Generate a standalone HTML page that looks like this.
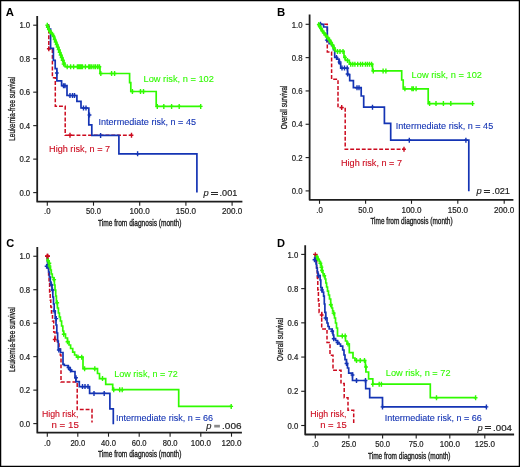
<!DOCTYPE html><html><head><meta charset="utf-8"><style>html,body{margin:0;padding:0;background:#fff;}svg{display:block;}text{font-family:"Liberation Sans",sans-serif;}</style></head><body>
<div style="will-change:transform"><svg width="520" height="467" viewBox="0 0 520 467">
<rect x="0" y="0" width="520" height="467" fill="#fff"/>
<path d="M37.2,16 V201.7 H242.4" fill="none" stroke="#1e1e1e" stroke-width="1.8" stroke-linejoin="round"/>
<line x1="33.2" y1="25.2" x2="37.2" y2="25.2" stroke="#1e1e1e" stroke-width="1.1"/>
<text x="19.4" y="28.4" font-size="8.2" fill="#1e1e1e" text-anchor="start" font-weight="normal" font-style="normal" textLength="10.8" lengthAdjust="spacingAndGlyphs" stroke="#1e1e1e" stroke-width="0.2">1.0</text>
<line x1="33.2" y1="58.68" x2="37.2" y2="58.68" stroke="#1e1e1e" stroke-width="1.1"/>
<text x="19.4" y="61.88" font-size="8.2" fill="#1e1e1e" text-anchor="start" font-weight="normal" font-style="normal" textLength="10.8" lengthAdjust="spacingAndGlyphs" stroke="#1e1e1e" stroke-width="0.2">0.8</text>
<line x1="33.2" y1="92.16" x2="37.2" y2="92.16" stroke="#1e1e1e" stroke-width="1.1"/>
<text x="19.4" y="95.36" font-size="8.2" fill="#1e1e1e" text-anchor="start" font-weight="normal" font-style="normal" textLength="10.8" lengthAdjust="spacingAndGlyphs" stroke="#1e1e1e" stroke-width="0.2">0.6</text>
<line x1="33.2" y1="125.64" x2="37.2" y2="125.64" stroke="#1e1e1e" stroke-width="1.1"/>
<text x="19.4" y="128.84" font-size="8.2" fill="#1e1e1e" text-anchor="start" font-weight="normal" font-style="normal" textLength="10.8" lengthAdjust="spacingAndGlyphs" stroke="#1e1e1e" stroke-width="0.2">0.4</text>
<line x1="33.2" y1="159.12" x2="37.2" y2="159.12" stroke="#1e1e1e" stroke-width="1.1"/>
<text x="19.4" y="162.32" font-size="8.2" fill="#1e1e1e" text-anchor="start" font-weight="normal" font-style="normal" textLength="10.8" lengthAdjust="spacingAndGlyphs" stroke="#1e1e1e" stroke-width="0.2">0.2</text>
<line x1="33.2" y1="192.6" x2="37.2" y2="192.6" stroke="#1e1e1e" stroke-width="1.1"/>
<text x="19.4" y="195.79999999999998" font-size="8.2" fill="#1e1e1e" text-anchor="start" font-weight="normal" font-style="normal" textLength="10.8" lengthAdjust="spacingAndGlyphs" stroke="#1e1e1e" stroke-width="0.2">0.0</text>
<line x1="47.3" y1="201.7" x2="47.3" y2="205.7" stroke="#1e1e1e" stroke-width="1.1"/>
<text x="47.3" y="214" font-size="8.2" fill="#1e1e1e" text-anchor="middle" font-weight="normal" font-style="normal" textLength="6.5" lengthAdjust="spacingAndGlyphs" stroke="#1e1e1e" stroke-width="0.2">.0</text>
<line x1="93.5" y1="201.7" x2="93.5" y2="205.7" stroke="#1e1e1e" stroke-width="1.1"/>
<text x="93.5" y="214" font-size="8.2" fill="#1e1e1e" text-anchor="middle" font-weight="normal" font-style="normal" textLength="14.8" lengthAdjust="spacingAndGlyphs" stroke="#1e1e1e" stroke-width="0.2">50.0</text>
<line x1="139.7" y1="201.7" x2="139.7" y2="205.7" stroke="#1e1e1e" stroke-width="1.1"/>
<text x="139.7" y="214" font-size="8.2" fill="#1e1e1e" text-anchor="middle" font-weight="normal" font-style="normal" textLength="20.2" lengthAdjust="spacingAndGlyphs" stroke="#1e1e1e" stroke-width="0.2">100.0</text>
<line x1="185.9" y1="201.7" x2="185.9" y2="205.7" stroke="#1e1e1e" stroke-width="1.1"/>
<text x="185.9" y="214" font-size="8.2" fill="#1e1e1e" text-anchor="middle" font-weight="normal" font-style="normal" textLength="20.2" lengthAdjust="spacingAndGlyphs" stroke="#1e1e1e" stroke-width="0.2">150.0</text>
<line x1="232.1" y1="201.7" x2="232.1" y2="205.7" stroke="#1e1e1e" stroke-width="1.1"/>
<text x="232.1" y="214" font-size="8.2" fill="#1e1e1e" text-anchor="middle" font-weight="normal" font-style="normal" textLength="20.2" lengthAdjust="spacingAndGlyphs" stroke="#1e1e1e" stroke-width="0.2">200.0</text>
<text x="5.8" y="15.8" font-size="11.4" fill="#000" text-anchor="start" font-weight="bold" font-style="normal" textLength="8.2" lengthAdjust="spacingAndGlyphs">A</text>
<text x="98" y="225.8" font-size="8.8" fill="#1e1e1e" text-anchor="start" font-weight="normal" font-style="normal" textLength="83.4" lengthAdjust="spacingAndGlyphs" stroke="#1e1e1e" stroke-width="0.35">Time from diagnosis (month)</text>
<text transform="translate(14.6,108.7) rotate(-90)" x="0" y="0" font-size="8.8" fill="#1e1e1e" stroke="#1e1e1e" stroke-width="0.3" text-anchor="middle" textLength="64" lengthAdjust="spacingAndGlyphs">Leukemia-free survival</text>
<text x="143.5" y="82" font-size="9" fill="#30fa00" text-anchor="start" font-weight="normal" font-style="normal" textLength="70.4" lengthAdjust="spacingAndGlyphs" stroke="#30fa00" stroke-width="0.1">Low risk, n = 102</text>
<text x="98.5" y="124.8" font-size="9" fill="#1434b4" text-anchor="start" font-weight="normal" font-style="normal" textLength="97.5" lengthAdjust="spacingAndGlyphs" stroke="#1434b4" stroke-width="0.1">Intermediate risk, n = 45</text>
<text x="49.1" y="152.3" font-size="9" fill="#cc0a1e" text-anchor="start" font-weight="normal" font-style="normal" textLength="61" lengthAdjust="spacingAndGlyphs" stroke="#cc0a1e" stroke-width="0.1">High risk, n = 7</text>
<path d="M309.6,14.4 V199.8 H513.4" fill="none" stroke="#1e1e1e" stroke-width="1.8" stroke-linejoin="round"/>
<line x1="305.6" y1="24.3" x2="309.6" y2="24.3" stroke="#1e1e1e" stroke-width="1.1"/>
<text x="291.7" y="27.5" font-size="8.2" fill="#1e1e1e" text-anchor="start" font-weight="normal" font-style="normal" textLength="10.8" lengthAdjust="spacingAndGlyphs" stroke="#1e1e1e" stroke-width="0.2">1.0</text>
<line x1="305.6" y1="57.62" x2="309.6" y2="57.62" stroke="#1e1e1e" stroke-width="1.1"/>
<text x="291.7" y="60.82" font-size="8.2" fill="#1e1e1e" text-anchor="start" font-weight="normal" font-style="normal" textLength="10.8" lengthAdjust="spacingAndGlyphs" stroke="#1e1e1e" stroke-width="0.2">0.8</text>
<line x1="305.6" y1="90.94" x2="309.6" y2="90.94" stroke="#1e1e1e" stroke-width="1.1"/>
<text x="291.7" y="94.14" font-size="8.2" fill="#1e1e1e" text-anchor="start" font-weight="normal" font-style="normal" textLength="10.8" lengthAdjust="spacingAndGlyphs" stroke="#1e1e1e" stroke-width="0.2">0.6</text>
<line x1="305.6" y1="124.26" x2="309.6" y2="124.26" stroke="#1e1e1e" stroke-width="1.1"/>
<text x="291.7" y="127.46000000000001" font-size="8.2" fill="#1e1e1e" text-anchor="start" font-weight="normal" font-style="normal" textLength="10.8" lengthAdjust="spacingAndGlyphs" stroke="#1e1e1e" stroke-width="0.2">0.4</text>
<line x1="305.6" y1="157.58" x2="309.6" y2="157.58" stroke="#1e1e1e" stroke-width="1.1"/>
<text x="291.7" y="160.78" font-size="8.2" fill="#1e1e1e" text-anchor="start" font-weight="normal" font-style="normal" textLength="10.8" lengthAdjust="spacingAndGlyphs" stroke="#1e1e1e" stroke-width="0.2">0.2</text>
<line x1="305.6" y1="190.9" x2="309.6" y2="190.9" stroke="#1e1e1e" stroke-width="1.1"/>
<text x="291.7" y="194.1" font-size="8.2" fill="#1e1e1e" text-anchor="start" font-weight="normal" font-style="normal" textLength="10.8" lengthAdjust="spacingAndGlyphs" stroke="#1e1e1e" stroke-width="0.2">0.0</text>
<line x1="319.5" y1="199.8" x2="319.5" y2="203.8" stroke="#1e1e1e" stroke-width="1.1"/>
<text x="319.5" y="212.6" font-size="8.2" fill="#1e1e1e" text-anchor="middle" font-weight="normal" font-style="normal" textLength="6.5" lengthAdjust="spacingAndGlyphs" stroke="#1e1e1e" stroke-width="0.2">.0</text>
<line x1="365.6" y1="199.8" x2="365.6" y2="203.8" stroke="#1e1e1e" stroke-width="1.1"/>
<text x="365.6" y="212.6" font-size="8.2" fill="#1e1e1e" text-anchor="middle" font-weight="normal" font-style="normal" textLength="14.8" lengthAdjust="spacingAndGlyphs" stroke="#1e1e1e" stroke-width="0.2">50.0</text>
<line x1="411.5" y1="199.8" x2="411.5" y2="203.8" stroke="#1e1e1e" stroke-width="1.1"/>
<text x="411.5" y="212.6" font-size="8.2" fill="#1e1e1e" text-anchor="middle" font-weight="normal" font-style="normal" textLength="20.2" lengthAdjust="spacingAndGlyphs" stroke="#1e1e1e" stroke-width="0.2">100.0</text>
<line x1="457.8" y1="199.8" x2="457.8" y2="203.8" stroke="#1e1e1e" stroke-width="1.1"/>
<text x="457.8" y="212.6" font-size="8.2" fill="#1e1e1e" text-anchor="middle" font-weight="normal" font-style="normal" textLength="20.2" lengthAdjust="spacingAndGlyphs" stroke="#1e1e1e" stroke-width="0.2">150.0</text>
<line x1="504.2" y1="199.8" x2="504.2" y2="203.8" stroke="#1e1e1e" stroke-width="1.1"/>
<text x="504.2" y="212.6" font-size="8.2" fill="#1e1e1e" text-anchor="middle" font-weight="normal" font-style="normal" textLength="20.2" lengthAdjust="spacingAndGlyphs" stroke="#1e1e1e" stroke-width="0.2">200.0</text>
<text x="276.9" y="15.85" font-size="11.4" fill="#000" text-anchor="start" font-weight="bold" font-style="normal" textLength="8.2" lengthAdjust="spacingAndGlyphs">B</text>
<text x="370.4" y="224" font-size="8.8" fill="#1e1e1e" text-anchor="start" font-weight="normal" font-style="normal" textLength="82.2" lengthAdjust="spacingAndGlyphs" stroke="#1e1e1e" stroke-width="0.35">Time from diagnosis (month)</text>
<text transform="translate(286.6,107.4) rotate(-90)" x="0" y="0" font-size="8.8" fill="#1e1e1e" stroke="#1e1e1e" stroke-width="0.3" text-anchor="middle" textLength="43.5" lengthAdjust="spacingAndGlyphs">Overall survival</text>
<text x="411.6" y="77.8" font-size="9" fill="#30fa00" text-anchor="start" font-weight="normal" font-style="normal" textLength="70.4" lengthAdjust="spacingAndGlyphs" stroke="#30fa00" stroke-width="0.1">Low risk, n = 102</text>
<text x="395.8" y="129" font-size="9" fill="#1434b4" text-anchor="start" font-weight="normal" font-style="normal" textLength="97.4" lengthAdjust="spacingAndGlyphs" stroke="#1434b4" stroke-width="0.1">Intermediate risk, n = 45</text>
<text x="341" y="166" font-size="9" fill="#cc0a1e" text-anchor="start" font-weight="normal" font-style="normal" textLength="61" lengthAdjust="spacingAndGlyphs" stroke="#cc0a1e" stroke-width="0.1">High risk, n = 7</text>
<path d="M37.3,247 V432.7 H241.9" fill="none" stroke="#1e1e1e" stroke-width="1.8" stroke-linejoin="round"/>
<line x1="33.3" y1="256.25" x2="37.3" y2="256.25" stroke="#1e1e1e" stroke-width="1.1"/>
<text x="19.4" y="259.45" font-size="8.2" fill="#1e1e1e" text-anchor="start" font-weight="normal" font-style="normal" textLength="10.8" lengthAdjust="spacingAndGlyphs" stroke="#1e1e1e" stroke-width="0.2">1.0</text>
<line x1="33.3" y1="289.72" x2="37.3" y2="289.72" stroke="#1e1e1e" stroke-width="1.1"/>
<text x="19.4" y="292.92" font-size="8.2" fill="#1e1e1e" text-anchor="start" font-weight="normal" font-style="normal" textLength="10.8" lengthAdjust="spacingAndGlyphs" stroke="#1e1e1e" stroke-width="0.2">0.8</text>
<line x1="33.3" y1="323.19" x2="37.3" y2="323.19" stroke="#1e1e1e" stroke-width="1.1"/>
<text x="19.4" y="326.39" font-size="8.2" fill="#1e1e1e" text-anchor="start" font-weight="normal" font-style="normal" textLength="10.8" lengthAdjust="spacingAndGlyphs" stroke="#1e1e1e" stroke-width="0.2">0.6</text>
<line x1="33.3" y1="356.66" x2="37.3" y2="356.66" stroke="#1e1e1e" stroke-width="1.1"/>
<text x="19.4" y="359.86" font-size="8.2" fill="#1e1e1e" text-anchor="start" font-weight="normal" font-style="normal" textLength="10.8" lengthAdjust="spacingAndGlyphs" stroke="#1e1e1e" stroke-width="0.2">0.4</text>
<line x1="33.3" y1="390.13" x2="37.3" y2="390.13" stroke="#1e1e1e" stroke-width="1.1"/>
<text x="19.4" y="393.33" font-size="8.2" fill="#1e1e1e" text-anchor="start" font-weight="normal" font-style="normal" textLength="10.8" lengthAdjust="spacingAndGlyphs" stroke="#1e1e1e" stroke-width="0.2">0.2</text>
<line x1="33.3" y1="423.6" x2="37.3" y2="423.6" stroke="#1e1e1e" stroke-width="1.1"/>
<text x="19.4" y="426.8" font-size="8.2" fill="#1e1e1e" text-anchor="start" font-weight="normal" font-style="normal" textLength="10.8" lengthAdjust="spacingAndGlyphs" stroke="#1e1e1e" stroke-width="0.2">0.0</text>
<line x1="47.3" y1="432.7" x2="47.3" y2="436.7" stroke="#1e1e1e" stroke-width="1.1"/>
<text x="47.3" y="445.8" font-size="8.2" fill="#1e1e1e" text-anchor="middle" font-weight="normal" font-style="normal" textLength="6.5" lengthAdjust="spacingAndGlyphs" stroke="#1e1e1e" stroke-width="0.2">.0</text>
<line x1="77.8" y1="432.7" x2="77.8" y2="436.7" stroke="#1e1e1e" stroke-width="1.1"/>
<text x="77.8" y="445.8" font-size="8.2" fill="#1e1e1e" text-anchor="middle" font-weight="normal" font-style="normal" textLength="14.8" lengthAdjust="spacingAndGlyphs" stroke="#1e1e1e" stroke-width="0.2">20.0</text>
<line x1="108.5" y1="432.7" x2="108.5" y2="436.7" stroke="#1e1e1e" stroke-width="1.1"/>
<text x="108.5" y="445.8" font-size="8.2" fill="#1e1e1e" text-anchor="middle" font-weight="normal" font-style="normal" textLength="14.8" lengthAdjust="spacingAndGlyphs" stroke="#1e1e1e" stroke-width="0.2">40.0</text>
<line x1="139.2" y1="432.7" x2="139.2" y2="436.7" stroke="#1e1e1e" stroke-width="1.1"/>
<text x="139.2" y="445.8" font-size="8.2" fill="#1e1e1e" text-anchor="middle" font-weight="normal" font-style="normal" textLength="14.8" lengthAdjust="spacingAndGlyphs" stroke="#1e1e1e" stroke-width="0.2">60.0</text>
<line x1="170.1" y1="432.7" x2="170.1" y2="436.7" stroke="#1e1e1e" stroke-width="1.1"/>
<text x="170.1" y="445.8" font-size="8.2" fill="#1e1e1e" text-anchor="middle" font-weight="normal" font-style="normal" textLength="14.8" lengthAdjust="spacingAndGlyphs" stroke="#1e1e1e" stroke-width="0.2">80.0</text>
<line x1="200.8" y1="432.7" x2="200.8" y2="436.7" stroke="#1e1e1e" stroke-width="1.1"/>
<text x="200.8" y="445.8" font-size="8.2" fill="#1e1e1e" text-anchor="middle" font-weight="normal" font-style="normal" textLength="20.2" lengthAdjust="spacingAndGlyphs" stroke="#1e1e1e" stroke-width="0.2">100.0</text>
<line x1="231.5" y1="432.7" x2="231.5" y2="436.7" stroke="#1e1e1e" stroke-width="1.1"/>
<text x="231.5" y="445.8" font-size="8.2" fill="#1e1e1e" text-anchor="middle" font-weight="normal" font-style="normal" textLength="20.2" lengthAdjust="spacingAndGlyphs" stroke="#1e1e1e" stroke-width="0.2">120.0</text>
<text x="6.2" y="247" font-size="11.4" fill="#000" text-anchor="start" font-weight="bold" font-style="normal" textLength="8" lengthAdjust="spacingAndGlyphs">C</text>
<text x="98" y="456.7" font-size="8.8" fill="#1e1e1e" text-anchor="start" font-weight="normal" font-style="normal" textLength="83.4" lengthAdjust="spacingAndGlyphs" stroke="#1e1e1e" stroke-width="0.35">Time from diagnosis (month)</text>
<text transform="translate(14.6,339.5) rotate(-90)" x="0" y="0" font-size="8.8" fill="#1e1e1e" stroke="#1e1e1e" stroke-width="0.3" text-anchor="middle" textLength="65" lengthAdjust="spacingAndGlyphs">Leukemia-free survival</text>
<text x="114.2" y="377.2" font-size="9" fill="#30fa00" text-anchor="start" font-weight="normal" font-style="normal" textLength="63.7" lengthAdjust="spacingAndGlyphs" stroke="#30fa00" stroke-width="0.1">Low risk, n = 72</text>
<text x="115.9" y="421" font-size="9" fill="#1434b4" text-anchor="start" font-weight="normal" font-style="normal" textLength="97.2" lengthAdjust="spacingAndGlyphs" stroke="#1434b4" stroke-width="0.1">Intermediate risk, n = 66</text>
<text x="41.9" y="416.8" font-size="9" fill="#cc0a1e" text-anchor="start" font-weight="normal" font-style="normal" textLength="36.5" lengthAdjust="spacingAndGlyphs" stroke="#cc0a1e" stroke-width="0.1">High risk,</text>
<text x="51.5" y="427.5" font-size="9" fill="#cc0a1e" text-anchor="start" font-weight="normal" font-style="normal" textLength="27.3" lengthAdjust="spacingAndGlyphs" stroke="#cc0a1e" stroke-width="0.1">n = 15</text>
<path d="M305.2,245.3 V434.5 H514.1" fill="none" stroke="#1e1e1e" stroke-width="1.8" stroke-linejoin="round"/>
<line x1="301.2" y1="254.4" x2="305.2" y2="254.4" stroke="#1e1e1e" stroke-width="1.1"/>
<text x="287.5" y="257.6" font-size="8.2" fill="#1e1e1e" text-anchor="start" font-weight="normal" font-style="normal" textLength="10.8" lengthAdjust="spacingAndGlyphs" stroke="#1e1e1e" stroke-width="0.2">1.0</text>
<line x1="301.2" y1="288.62" x2="305.2" y2="288.62" stroke="#1e1e1e" stroke-width="1.1"/>
<text x="287.5" y="291.82" font-size="8.2" fill="#1e1e1e" text-anchor="start" font-weight="normal" font-style="normal" textLength="10.8" lengthAdjust="spacingAndGlyphs" stroke="#1e1e1e" stroke-width="0.2">0.8</text>
<line x1="301.2" y1="322.84" x2="305.2" y2="322.84" stroke="#1e1e1e" stroke-width="1.1"/>
<text x="287.5" y="326.03999999999996" font-size="8.2" fill="#1e1e1e" text-anchor="start" font-weight="normal" font-style="normal" textLength="10.8" lengthAdjust="spacingAndGlyphs" stroke="#1e1e1e" stroke-width="0.2">0.6</text>
<line x1="301.2" y1="357.06" x2="305.2" y2="357.06" stroke="#1e1e1e" stroke-width="1.1"/>
<text x="287.5" y="360.26" font-size="8.2" fill="#1e1e1e" text-anchor="start" font-weight="normal" font-style="normal" textLength="10.8" lengthAdjust="spacingAndGlyphs" stroke="#1e1e1e" stroke-width="0.2">0.4</text>
<line x1="301.2" y1="391.28" x2="305.2" y2="391.28" stroke="#1e1e1e" stroke-width="1.1"/>
<text x="287.5" y="394.47999999999996" font-size="8.2" fill="#1e1e1e" text-anchor="start" font-weight="normal" font-style="normal" textLength="10.8" lengthAdjust="spacingAndGlyphs" stroke="#1e1e1e" stroke-width="0.2">0.2</text>
<line x1="301.2" y1="425.5" x2="305.2" y2="425.5" stroke="#1e1e1e" stroke-width="1.1"/>
<text x="287.5" y="428.7" font-size="8.2" fill="#1e1e1e" text-anchor="start" font-weight="normal" font-style="normal" textLength="10.8" lengthAdjust="spacingAndGlyphs" stroke="#1e1e1e" stroke-width="0.2">0.0</text>
<line x1="315.3" y1="434.5" x2="315.3" y2="438.5" stroke="#1e1e1e" stroke-width="1.1"/>
<text x="315.3" y="446.7" font-size="8.2" fill="#1e1e1e" text-anchor="middle" font-weight="normal" font-style="normal" textLength="6.5" lengthAdjust="spacingAndGlyphs" stroke="#1e1e1e" stroke-width="0.2">.0</text>
<line x1="348.9" y1="434.5" x2="348.9" y2="438.5" stroke="#1e1e1e" stroke-width="1.1"/>
<text x="348.9" y="446.7" font-size="8.2" fill="#1e1e1e" text-anchor="middle" font-weight="normal" font-style="normal" textLength="14.8" lengthAdjust="spacingAndGlyphs" stroke="#1e1e1e" stroke-width="0.2">25.0</text>
<line x1="382.6" y1="434.5" x2="382.6" y2="438.5" stroke="#1e1e1e" stroke-width="1.1"/>
<text x="382.6" y="446.7" font-size="8.2" fill="#1e1e1e" text-anchor="middle" font-weight="normal" font-style="normal" textLength="14.8" lengthAdjust="spacingAndGlyphs" stroke="#1e1e1e" stroke-width="0.2">50.0</text>
<line x1="416.2" y1="434.5" x2="416.2" y2="438.5" stroke="#1e1e1e" stroke-width="1.1"/>
<text x="416.2" y="446.7" font-size="8.2" fill="#1e1e1e" text-anchor="middle" font-weight="normal" font-style="normal" textLength="14.8" lengthAdjust="spacingAndGlyphs" stroke="#1e1e1e" stroke-width="0.2">75.0</text>
<line x1="449.8" y1="434.5" x2="449.8" y2="438.5" stroke="#1e1e1e" stroke-width="1.1"/>
<text x="449.8" y="446.7" font-size="8.2" fill="#1e1e1e" text-anchor="middle" font-weight="normal" font-style="normal" textLength="20.2" lengthAdjust="spacingAndGlyphs" stroke="#1e1e1e" stroke-width="0.2">100.0</text>
<line x1="484.8" y1="434.5" x2="484.8" y2="438.5" stroke="#1e1e1e" stroke-width="1.1"/>
<text x="484.8" y="446.7" font-size="8.2" fill="#1e1e1e" text-anchor="middle" font-weight="normal" font-style="normal" textLength="20.2" lengthAdjust="spacingAndGlyphs" stroke="#1e1e1e" stroke-width="0.2">125.0</text>
<text x="277" y="247" font-size="11.4" fill="#000" text-anchor="start" font-weight="bold" font-style="normal" textLength="8" lengthAdjust="spacingAndGlyphs">D</text>
<text x="368" y="458.8" font-size="8.8" fill="#1e1e1e" text-anchor="start" font-weight="normal" font-style="normal" textLength="82.5" lengthAdjust="spacingAndGlyphs" stroke="#1e1e1e" stroke-width="0.35">Time from diagnosis (month)</text>
<text transform="translate(282.5,339.4) rotate(-90)" x="0" y="0" font-size="8.8" fill="#1e1e1e" stroke="#1e1e1e" stroke-width="0.3" text-anchor="middle" textLength="43" lengthAdjust="spacingAndGlyphs">Overall survival</text>
<text x="385.8" y="376.2" font-size="9" fill="#30fa00" text-anchor="start" font-weight="normal" font-style="normal" textLength="64.7" lengthAdjust="spacingAndGlyphs" stroke="#30fa00" stroke-width="0.1">Low risk, n = 72</text>
<text x="384.7" y="420.6" font-size="9" fill="#1434b4" text-anchor="start" font-weight="normal" font-style="normal" textLength="97.1" lengthAdjust="spacingAndGlyphs" stroke="#1434b4" stroke-width="0.1">Intermediate risk, n = 66</text>
<text x="310.2" y="416.9" font-size="9" fill="#cc0a1e" text-anchor="start" font-weight="normal" font-style="normal" textLength="36.3" lengthAdjust="spacingAndGlyphs" stroke="#cc0a1e" stroke-width="0.1">High risk,</text>
<text x="320.2" y="427.9" font-size="9" fill="#cc0a1e" text-anchor="start" font-weight="normal" font-style="normal" textLength="26.6" lengthAdjust="spacingAndGlyphs" stroke="#cc0a1e" stroke-width="0.1">n = 15</text>
<text x="203.4" y="196" font-size="9.4" fill="#1e1e1e" text-anchor="start" font-weight="normal" font-style="italic" stroke="#1e1e1e" stroke-width="0.15">p</text>
<rect x="211" y="192" width="7" height="1" fill="#2a2a2a"/>
<rect x="211" y="194" width="7" height="1" fill="#2a2a2a"/>
<text x="219.6" y="196" font-size="9.2" fill="#1e1e1e" text-anchor="start" font-weight="normal" font-style="normal" textLength="17.7" lengthAdjust="spacingAndGlyphs" stroke="#1e1e1e" stroke-width="0.2">.001</text>
<text x="476.5" y="194.4" font-size="9.4" fill="#1e1e1e" text-anchor="start" font-weight="normal" font-style="italic" stroke="#1e1e1e" stroke-width="0.15">p</text>
<rect x="483.9" y="190" width="6.100000000000023" height="1" fill="#2a2a2a"/>
<rect x="483.9" y="192" width="6.100000000000023" height="1" fill="#2a2a2a"/>
<text x="492.1" y="194.4" font-size="9.2" fill="#1e1e1e" text-anchor="start" font-weight="normal" font-style="normal" textLength="17.9" lengthAdjust="spacingAndGlyphs" stroke="#1e1e1e" stroke-width="0.2">.021</text>
<text x="206.2" y="428.7" font-size="9.4" fill="#1e1e1e" text-anchor="start" font-weight="normal" font-style="italic" stroke="#1e1e1e" stroke-width="0.15">p</text>
<rect x="214.2" y="424.8" width="5.700000000000017" height="2.7" fill="#8a8a8a"/>
<text x="222.1" y="428.7" font-size="9.2" fill="#1e1e1e" text-anchor="start" font-weight="normal" font-style="normal" textLength="19.4" lengthAdjust="spacingAndGlyphs" stroke="#1e1e1e" stroke-width="0.2">.006</text>
<text x="477.5" y="430.5" font-size="9.4" fill="#1e1e1e" text-anchor="start" font-weight="normal" font-style="italic" stroke="#1e1e1e" stroke-width="0.15">p</text>
<rect x="484.9" y="426" width="6.100000000000023" height="1" fill="#2a2a2a"/>
<rect x="484.9" y="428" width="6.100000000000023" height="1" fill="#2a2a2a"/>
<text x="493.1" y="430.5" font-size="9.2" fill="#1e1e1e" text-anchor="start" font-weight="normal" font-style="normal" textLength="18.9" lengthAdjust="spacingAndGlyphs" stroke="#1e1e1e" stroke-width="0.2">.004</text>
<path d="M47.3,25.2 H48.8 V49 H52.4 V77.7 H55.3 V106.3 H65.2 V135.2 H132" fill="none" stroke="#cc0a1e" stroke-width="1.5" stroke-dasharray="3.9 1.9" stroke-linejoin="miter"/>
<path d="M48.8,46.3V51.3M46.9,48.8H50.699999999999996M70,132.7V137.7M68.1,135.2H71.9M131.5,132.7V137.7M129.6,135.2H133.4" fill="none" stroke="#cc0a1e" stroke-width="1.4"/>
<path d="M47.3,25.2 H48.2 V29 H50.6 V48.4 H53.4 V60.3 H55.2 V68.6 H56.9 V80.9 H61.6 V85.7 H67 V95.5 H76.9 V101.4 H81 V108 H88.8 V124.8 H91.8 V135.4 H118.9 V153.8 H196.9 V192.6" fill="none" stroke="#1434b4" stroke-width="1.7" stroke-linejoin="miter"/>
<path d="M48,24.5V29.5M46.1,27H49.9M56.8,70.5V75.5M54.9,73H58.699999999999996M63.5,83.2V88.2M61.6,85.7H65.4M65,83.2V88.2M63.1,85.7H66.9M70,93.0V98.0M68.1,95.5H71.9M72.5,93.0V98.0M70.6,95.5H74.4M74.5,93.0V98.0M72.6,95.5H76.4M83.5,105.5V110.5M81.6,108H85.4M86,105.5V110.5M84.1,108H87.9M89.5,112.5V117.5M87.6,115H91.4M100.6,132.9V137.9M98.69999999999999,135.4H102.5M137.6,151.3V156.3M135.7,153.8H139.5" fill="none" stroke="#1434b4" stroke-width="1.4"/>
<path d="M47.3,25.2 V27 H48.2 V29 H49 V30.5 H50 V32 H51 V33 H52 V34.3 H53 V35.8 H54 V38.2 H55 V40.6 H56 V43 H57 V45.4 H58 V47.8 H59 V50.4 H60 V53 H61 V55.5 H62 V58 H63 V60.6 H64 V63.2 H65 V66.7 H100 V73.5 H129.6 V82.7 H130.8 V91.5 H156.2 V106.4 H200.7" fill="none" stroke="#30fa00" stroke-width="1.7" stroke-linejoin="miter"/>
<path d="M47.3,22.8V27.8M45.4,25.3H49.199999999999996M47.8,24.8V29.8M45.9,27.3H49.699999999999996M48.8,27.1V32.1M46.9,29.6H50.699999999999996M50,29.0V34.0M48.1,31.5H51.9M51.3,30.299999999999997V35.3M49.4,32.8H53.199999999999996M52.5,31.799999999999997V36.8M50.6,34.3H54.4M53.6,34.0V39.0M51.7,36.5H55.5M54.6,37.0V42.0M52.7,39.5H56.5M55.6,39.5V44.5M53.7,42H57.5M56.6,42.0V47.0M54.7,44.5H58.5M57.6,44.5V49.5M55.7,47H59.5M58.6,47.1V52.1M56.7,49.6H60.5M59.6,49.9V54.9M57.7,52.4H61.5M60.6,52.5V57.5M58.7,55H62.5M61.6,55.0V60.0M59.7,57.5H63.5M62.6,57.8V62.8M60.7,60.3H64.5M63.6,61.5V66.5M61.7,64H65.5M67.2,64.2V69.2M65.3,66.7H69.10000000000001M70.6,64.2V69.2M68.69999999999999,66.7H72.5M73.6,64.2V69.2M71.69999999999999,66.7H75.5M77.4,64.2V69.2M75.5,66.7H79.30000000000001M78.6,64.2V69.2M76.69999999999999,66.7H80.5M79.9,64.2V69.2M78.0,66.7H81.80000000000001M81.2,64.2V69.2M79.3,66.7H83.10000000000001M82.5,64.2V69.2M80.6,66.7H84.4M85.4,64.2V69.2M83.5,66.7H87.30000000000001M88.8,64.2V69.2M86.89999999999999,66.7H90.7M90.1,64.2V69.2M88.19999999999999,66.7H92.0M91.8,64.2V69.2M89.89999999999999,66.7H93.7M93.9,64.2V69.2M92.0,66.7H95.80000000000001M95.6,64.2V69.2M93.69999999999999,66.7H97.5M97.7,64.2V69.2M95.8,66.7H99.60000000000001M99.4,64.2V69.2M97.5,66.7H101.30000000000001M100.8,71.0V76.0M98.89999999999999,73.5H102.7M111.6,71.0V76.0M109.69999999999999,73.5H113.5M114.6,71.0V76.0M112.69999999999999,73.5H116.5M132.4,89.0V94.0M130.5,91.5H134.3M140.5,89.0V94.0M138.6,91.5H142.4M143.5,89.0V94.0M141.6,91.5H145.4M157.3,103.9V108.9M155.4,106.4H159.20000000000002M163.8,103.9V108.9M161.9,106.4H165.70000000000002M171.6,103.9V108.9M169.7,106.4H173.5M179.2,103.9V108.9M177.29999999999998,106.4H181.1M200.7,103.9V108.9M198.79999999999998,106.4H202.6" fill="none" stroke="#30fa00" stroke-width="1.4"/>
<path d="M318.5,24.3 H327.3 V52 H331.6 V79.2 H338 V107.6 H345.2 V149.2 H404" fill="none" stroke="#cc0a1e" stroke-width="1.5" stroke-dasharray="3.9 1.9" stroke-linejoin="miter"/>
<path d="M341.7,105.1V110.1M339.8,107.6H343.59999999999997M404,146.7V151.7M402.1,149.2H405.9" fill="none" stroke="#cc0a1e" stroke-width="1.4"/>
<path d="M318.5,24.3 H323.6 V27 H327.3 V40.1 H329.1 V43.6 H331.7 V45.7 H333.4 V49.6 H334.7 V57.4 H336.9 V59.1 H339 V63.4 H340.7 V68.1 H347.6 V74.6 H349.7 V80.6 H353.4 V87.7 H361.2 V96 H363.7 V107.2 H384.4 V123.3 H390.7 V140.2 H468.8 V191.2" fill="none" stroke="#1434b4" stroke-width="1.7" stroke-linejoin="miter"/>
<path d="M320.5,21.8V26.8M318.6,24.3H322.4M326.8,37.6V42.6M324.90000000000003,40.1H328.7M336.5,54.9V59.9M334.6,57.4H338.4M339.6,59.5V64.5M337.70000000000005,62H341.5M342,65.6V70.6M340.1,68.1H343.9M344.5,65.6V70.6M342.6,68.1H346.4M347.2,65.6V70.6M345.3,68.1H349.09999999999997M347.6,71.5V76.5M345.70000000000005,74H349.5M357,85.2V90.2M355.1,87.7H358.9M359,85.2V90.2M357.1,87.7H360.9M372.5,104.7V109.7M370.6,107.2H374.4M409.3,137.7V142.7M407.40000000000003,140.2H411.2M465.9,137.7V142.7M464.0,140.2H467.79999999999995" fill="none" stroke="#1434b4" stroke-width="1.4"/>
<path d="M318.5,24.3 V25.5 H319.3 V26.8 H320.1 V28.1 H320.9 V29.4 H321.7 V30.6 H322.6 V31.8 H323.5 V33 H324.5 V34.3 H325.5 V35.6 H326.5 V36.9 H327.5 V38.2 H328.5 V39.5 H329.5 V40.8 H330.5 V42.2 H331.3 V43.6 H332.1 V45 H332.9 V46.4 H333.7 V47.8 H334.5 V49.3 H335.3 V51.4 H344 V57.4 H345.4 V60.4 H349.3 V64.2 H372.5 V70.9 H401.7 V80 H403.2 V88.8 H428.2 V103.6 H472.6" fill="none" stroke="#30fa00" stroke-width="1.7" stroke-linejoin="miter"/>
<path d="M318.8,22.0V27.0M316.90000000000003,24.5H320.7M319.8,24.0V29.0M317.90000000000003,26.5H321.7M321,26.0V31.0M319.1,28.5H322.9M322.5,28.5V33.5M320.6,31H324.4M324,30.5V35.5M322.1,33H325.9M325.5,32.5V37.5M323.6,35H327.4M327.5,35.0V40.0M325.6,37.5H329.4M329.5,37.5V42.5M327.6,40H331.4M331,40.0V45.0M329.1,42.5H332.9M332.5,42.5V47.5M330.6,45H334.4M334,45.5V50.5M332.1,48H335.9M337.5,48.9V53.9M335.6,51.4H339.4M340,48.9V53.9M338.1,51.4H341.9M343,48.9V53.9M341.1,51.4H344.9M345,54.9V59.9M343.1,57.4H346.9M347.5,57.9V62.9M345.6,60.4H349.4M350.7,61.7V66.7M348.8,64.2H352.59999999999997M352.8,61.7V66.7M350.90000000000003,64.2H354.7M354.9,61.7V66.7M353.0,64.2H356.79999999999995M357.7,61.7V66.7M355.8,64.2H359.59999999999997M360.5,61.7V66.7M358.6,64.2H362.4M362.6,61.7V66.7M360.70000000000005,64.2H364.5M365.4,61.7V66.7M363.5,64.2H367.29999999999995M367.4,61.7V66.7M365.5,64.2H369.29999999999995M369.5,61.7V66.7M367.6,64.2H371.4M371.6,61.7V66.7M369.70000000000005,64.2H373.5M373.3,68.4V73.4M371.40000000000003,70.9H375.2M383.1,68.4V73.4M381.20000000000005,70.9H385.0M385.9,68.4V73.4M384.0,70.9H387.79999999999995M404.9,86.3V91.3M403.0,88.8H406.79999999999995M411.9,86.3V91.3M410.0,88.8H413.79999999999995M413.4,86.3V91.3M411.5,88.8H415.29999999999995M416.1,86.3V91.3M414.20000000000005,88.8H418.0M429.6,101.1V106.1M427.70000000000005,103.6H431.5M436,101.1V106.1M434.1,103.6H437.9M443.4,101.1V106.1M441.5,103.6H445.29999999999995M450.8,101.1V106.1M448.90000000000003,103.6H452.7M472.6,101.1V106.1M470.70000000000005,103.6H474.5" fill="none" stroke="#30fa00" stroke-width="1.4"/>
<path d="M47.4,256.2 V262 H48 V268 H48.6 V275 H49.1 V283 H49.6 V292 H50.2 V300 H50.8 V307 H51.5 V313 H52.5 V321 H53.7 V332 H55 V340 H57.5 V344 H59 V349 H60.3 V355 H61 V382 H77.2 V409.4 H92 V422.5" fill="none" stroke="#cc0a1e" stroke-width="1.5" stroke-dasharray="3.9 1.9" stroke-linejoin="miter"/>
<path d="M47.5,253.7V258.7M45.6,256.2H49.4M54.7,337.0V342.0M52.800000000000004,339.5H56.6" fill="none" stroke="#cc0a1e" stroke-width="1.4"/>
<path d="M47.4,256.2 V262 H47.8 V268 H48.6 V272 H49.4 V277 H50.3 V282 H51 V285 H52 V290 H52.8 V297 H53.5 V304 H54.2 V311 H55.2 V318 H56 V325 H56.8 V333 H57.6 V341 H58.3 V349 H60.5 V352.5 H63 V364.4 H64.3 V365.5 H68.1 V367.5 H70 V370 H71.5 V371.5 H75 V377.7 H75.9 V381.6 H79.3 V386.6 H89.6 V393.4 H109.9 V408.8 H113.3 V424.2" fill="none" stroke="#1434b4" stroke-width="1.7" stroke-linejoin="miter"/>
<path d="M46.6,263.8V268.8M44.7,266.3H48.5M51.5,282.5V287.5M49.6,285H53.4M52.5,287.5V292.5M50.6,290H54.4M54.2,308.5V313.5M52.300000000000004,311H56.1M56.3,316.1V321.1M54.4,318.6H58.199999999999996M58.8,347.5V352.5M56.9,350H60.699999999999996M68.5,365.0V370.0M66.6,367.5H70.4M70.5,367.5V372.5M68.6,370H72.4M76,375.2V380.2M74.1,377.7H77.9M82.5,384.1V389.1M80.6,386.6H84.4M85,384.1V389.1M83.1,386.6H86.9M88,384.1V389.1M86.1,386.6H89.9M94,390.9V395.9M92.1,393.4H95.9M104.2,390.9V395.9M102.3,393.4H106.10000000000001" fill="none" stroke="#1434b4" stroke-width="1.4"/>
<path d="M47.4,256.2 V259 H48.1 V261 H48.8 V264 H49.6 V267 H50.5 V270 H51.3 V274 H52.3 V277.5 H53.6 V280 H54.4 V285 H55 V290 H55.7 V296 H56.4 V302.8 H57.4 V308 H58.4 V313 H59.4 V317 H60.4 V321 H61.6 V326 H62.8 V331 H63.7 V334.2 H65.5 V338 H67.5 V341.7 H69 V345 H70.6 V348.5 H72.7 V352.2 H74.6 V355 H76.5 V357.2 H83 V368.7 H97.5 V373.5 H99.5 V378.6 H105.7 V384.4 H112.7 V389.7 H178.7 V406.4 H231.2" fill="none" stroke="#30fa00" stroke-width="1.7" stroke-linejoin="miter"/>
<path d="M48.1,258.2V263.2M46.2,260.7H50.0M49.4,260.8V265.8M47.5,263.3H51.3M49.4,263.4V268.4M47.5,265.9H51.3M54.2,277.1V282.1M52.300000000000004,279.6H56.1M57.2,300.3V305.3M55.300000000000004,302.8H59.1M63.7,331.7V336.7M61.800000000000004,334.2H65.60000000000001M67.5,339.2V344.2M65.6,341.7H69.4M78,354.7V359.7M76.1,357.2H79.9M81.7,354.7V359.7M79.8,357.2H83.60000000000001M84.6,366.2V371.2M82.69999999999999,368.7H86.5M94.8,366.2V371.2M92.89999999999999,368.7H96.7M102.5,376.1V381.1M100.6,378.6H104.4M113.7,387.2V392.2M111.8,389.7H115.60000000000001M119.7,387.2V392.2M117.8,389.7H121.60000000000001M122.2,387.2V392.2M120.3,389.7H124.10000000000001M231.2,403.9V408.9M229.29999999999998,406.4H233.1" fill="none" stroke="#30fa00" stroke-width="1.4"/>
<path d="M315.4,254.5 V260 H316.6 V268 H317.3 V278 H317.8 V290 H318.4 V301 H319.1 V312.4 H321.7 V329 H327 V342.5 H330 V355.2 H333 V370.2 H341 V383.6 H344.2 V397.7 H348 V410.2 H353.7 V424.7" fill="none" stroke="#cc0a1e" stroke-width="1.5" stroke-dasharray="3.9 1.9" stroke-linejoin="miter"/>
<path d="M321.7,312.5V317.5M319.8,315H323.59999999999997" fill="none" stroke="#cc0a1e" stroke-width="1.4"/>
<path d="M315.3,254.5 V259.7 H316 V264 H316.6 V268 H317.3 V272 H318 V275.5 H320.1 V280 H320.8 V287.7 H322.2 V292 H323.6 V296.2 H324.3 V304 H324.9 V312.4 H325.8 V318 H327 V323 H328 V326.5 H329.2 V329 H332.2 V331.2 H333 V335 H333.7 V338.7 H335.6 V340.5 H337.5 V342.5 H339 V344 H340.5 V346.2 H342.7 V350 H344 V355 H345 V359.7 H346.5 V363.5 H347.5 V368 H348.7 V373.2 H352.5 V380.5 H365.7 V388.7 H369.7 V397.7 H382.5 V406.9 H486.4" fill="none" stroke="#1434b4" stroke-width="1.7" stroke-linejoin="miter"/>
<path d="M314.5,257.2V262.2M312.6,259.7H316.4M318.5,273.0V278.0M316.6,275.5H320.4M322,287.5V292.5M320.1,290H323.9M325.5,315.5V320.5M323.6,318H327.4M332.2,328.7V333.7M330.3,331.2H334.09999999999997M333.7,336.2V341.2M331.8,338.7H335.59999999999997M337.5,340.0V345.0M335.6,342.5H339.4M346.5,361.0V366.0M344.6,363.5H348.4M352.5,372.5V377.5M350.6,375H354.4M356.5,378.0V383.0M354.6,380.5H358.4M365.5,378.0V383.0M363.6,380.5H367.4M382.5,404.4V409.4M380.6,406.9H384.4M486.4,404.4V409.4M484.5,406.9H488.29999999999995" fill="none" stroke="#1434b4" stroke-width="1.4"/>
<path d="M315.3,254.5 V255.5 H316.8 V257.5 H318 V259.5 H319.3 V261.5 H320.5 V263.5 H321.3 V266 H321.8 V269 H322.2 V272 H323 V274 H324.3 V275.8 H325 V279 H325.8 V283 H326.6 V287 H327.5 V291.2 H328.5 V295 H329.5 V299 H330.7 V304.7 H331.7 V308 H332.6 V311 H333.5 V313.1 H334.5 V318 H335.5 V323 H336.5 V328 H337.5 V336 H345.5 V341 H347 V344 H349.3 V352.7 H353 V358 H355 V360.5 H365.4 V366.5 H365.9 V372 H368.6 V378.8 H372.8 V384.2 H430.3 V397.7 H475.6" fill="none" stroke="#30fa00" stroke-width="1.7" stroke-linejoin="miter"/>
<path d="M316.8,254.0V259.0M314.90000000000003,256.5H318.7M317.8,256.5V261.5M315.90000000000003,259H319.7M320.3,260.7V265.7M318.40000000000003,263.2H322.2M321.4,264.8V269.8M319.5,267.3H323.29999999999995M322,268.0V273.0M320.1,270.5H323.9M324.3,273.3V278.3M322.40000000000003,275.8H326.2M330.7,302.2V307.2M328.8,304.7H332.59999999999997M333.5,310.6V315.6M331.6,313.1H335.4M342.3,333.5V338.5M340.40000000000003,336H344.2M345.2,333.5V338.5M343.3,336H347.09999999999997M348,341.5V346.5M346.1,344H349.9M356.5,358.0V363.0M354.6,360.5H358.4M360.2,358.0V363.0M358.3,360.5H362.09999999999997M364.5,358.0V363.0M362.6,360.5H366.4M366,364.5V369.5M364.1,367H367.9M372.8,381.7V386.7M370.90000000000003,384.2H374.7M379.2,381.7V386.7M377.3,384.2H381.09999999999997M381.4,381.7V386.7M379.5,384.2H383.29999999999995M436.5,395.2V400.2M434.6,397.7H438.4M475.6,395.2V400.2M473.70000000000005,397.7H477.5" fill="none" stroke="#30fa00" stroke-width="1.4"/>
<path d="M47.5,253.7V258.7M45.0,256.2H50.0" fill="none" stroke="#cc0a1e" stroke-width="1.8"/>
<path d="M315.3,252.20000000000002V256.6M313.1,254.4H317.5" fill="none" stroke="#cc0a1e" stroke-width="1.2"/>
<rect x="0.6" y="0.6" width="518.8" height="465.8" fill="none" stroke="#000" stroke-width="1.3"/>
</svg></div></body></html>
